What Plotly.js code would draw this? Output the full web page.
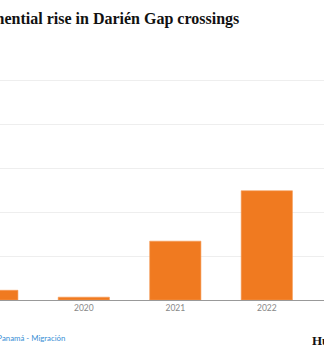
<!DOCTYPE html>
<html><head><meta charset="utf-8">
<script src="https://cdn.plot.ly/plotly-3.0.1.min.js"></script>
<style>html,body{margin:0;padding:0;background:#fff;}#c{width:324px;height:359px;}</style>
</head><body><div id="c"></div>
<script>
const years = ['2019','2020','2021','2022'];
const crossings = [22102, 6465, 133726, 248284];
const titleText = 'Exponential rise in Darién Gap crossings';
const sourceText = 'Source: Panamá - Migración';
const brandText = 'HuffPost';

const W = 324, H = 359, mt = 58, mb = 59;
const plotH = H - mt - mb;
const py = Y => (H - mb - Y) / plotH;

Plotly.newPlot('c', [{
  type: 'bar', x: years, y: crossings,
  marker: {color: '#f07a20', line: {color: '#f59a55', width: 0.6}},
  hoverinfo: 'x+y'
}], {
  width: W, height: H,
  margin: {l: 0, r: 0, t: mt, b: mb},
  paper_bgcolor: '#fff', plot_bgcolor: '#fff',
  bargap: 0.44,
  showlegend: false,
  xaxis: {type: 'category', range: [0.084, 3.625], showline: true, linecolor: '#999', linewidth: 1,
          ticks: '', tickfont: {family: 'Lato, sans-serif', size: 8.5, color: '#888'}, showgrid: false, fixedrange: true},
  yaxis: {range: [0, 550000], dtick: 100000, showticklabels: false, gridcolor: '#eeeeee', gridwidth: 1,
          zeroline: false, fixedrange: true},
  annotations: [
    {text: '<b>' + titleText + '</b>', xref: 'paper', yref: 'paper', x: 241 / W, y: py(19.5),
     xanchor: 'right', yanchor: 'middle', showarrow: false,
     font: {family: 'Liberation Serif, serif', size: 16, color: '#111'}},
    {text: sourceText, xref: 'paper', yref: 'paper', x: 67 / W, y: py(338),
     xanchor: 'right', yanchor: 'middle', showarrow: false,
     font: {family: 'Lato, sans-serif', size: 7.8, color: '#3a8fd6'}},
    {text: '<b>' + brandText + '</b>', xref: 'paper', yref: 'paper', x: 310 / W, y: py(340.5),
     xanchor: 'left', yanchor: 'middle', showarrow: false,
     font: {family: 'Liberation Serif, serif', size: 13, color: '#111'}}
  ]
}, {displayModeBar: false, staticPlot: true});
</script></body></html>
